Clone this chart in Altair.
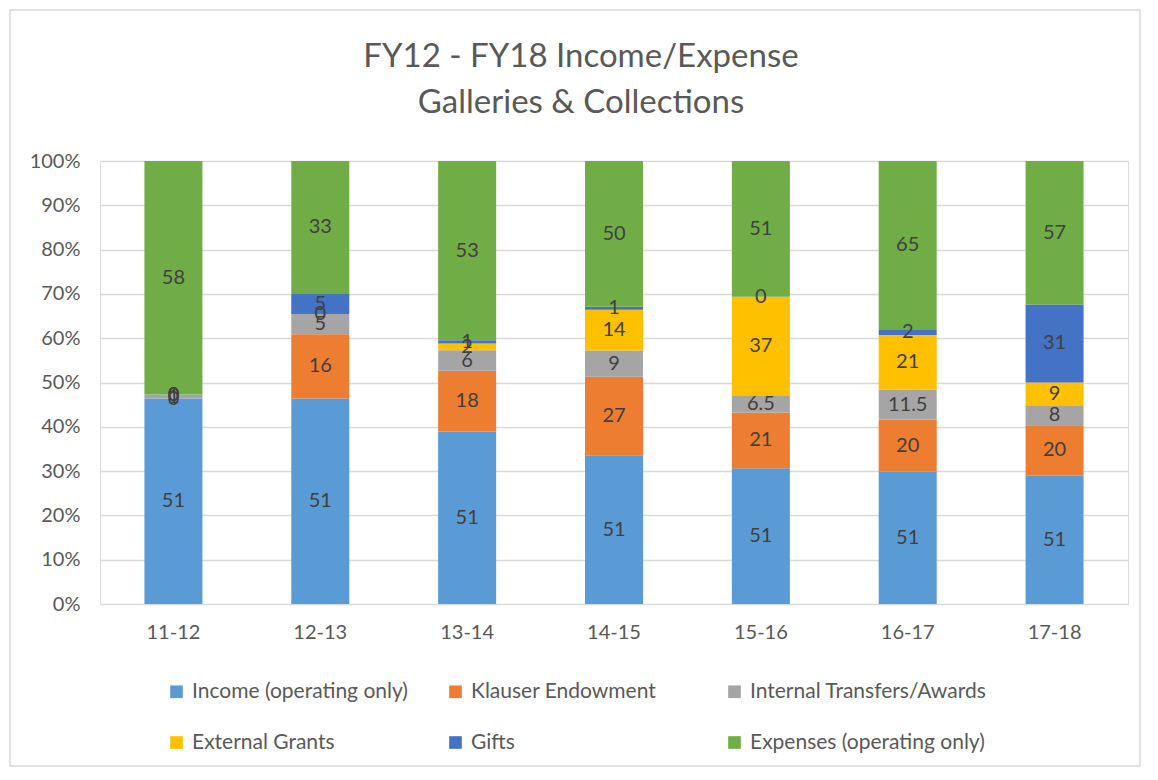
import altair as alt
import pandas as pd

years = ["11-12", "12-13", "13-14", "14-15", "15-16", "16-17", "17-18"]
series = ["Income (operating only)", "Klauser Endowment", "Internal Transfers/Awards",
          "External Grants", "Gifts", "Expenses (operating only)"]
colors = ["#5B9BD5", "#ED7D31", "#A5A5A5", "#FFC000", "#4472C4", "#70AD47"]

income    = [51, 51, 51, 51, 51, 51, 51]
klauser   = [0, 16, 18, 27, 21, 20, 20]
internal  = [1, 5, 6, 9, 6.5, 11.5, 8]
external  = [0, 0, 2, 14, 37, 21, 9]
gifts     = [0, 5, 1, 1, 0, 2, 31]
expenses  = [58, 33, 53, 50, 51, 65, 57]

title_lines = ["FY12 - FY18 Income/Expense", "Galleries & Collections"]

cols = [income, klauser, internal, external, gifts, expenses]
rows = []
for si, (name, vals) in enumerate(zip(series, cols)):
    for yi, yr in enumerate(years):
        v = vals[yi]
        lab = str(int(v)) if float(v).is_integer() else str(v)
        rows.append({"year": yr, "series": name, "idx": si, "value": v, "label": lab})
df = pd.DataFrame(rows)

FONT = "Lato"
GREY = "#595959"
W, H = 1028, 443

base = alt.Chart(df).transform_stack(
    stack="value", groupby=["year"], sort=[{"field": "idx", "order": "ascending"}],
    as_=["y0", "y1"], offset="normalize"
).transform_calculate(mid="(datum.y0 + datum.y1) / 2")

xenc = alt.X("year:N", sort=years, title=None,
             scale=alt.Scale(paddingInner=0.605, paddingOuter=0.3025),
             axis=alt.Axis(labelFont=FONT, labelFontSize=20, labelColor=GREY,
                           labelPadding=18, ticks=False, domain=False, labelAngle=0))

bars = base.mark_bar().encode(
    x=xenc,
    y=alt.Y("y0:Q", title=None, scale=alt.Scale(domain=[0, 1]),
            axis=alt.Axis(format=".0%", values=[i / 10 for i in range(11)],
                          labelFont=FONT, labelFontSize=20, labelColor=GREY,
                          labelPadding=20, ticks=False, domain=False,
                          grid=True, gridColor="#D9D9D9", gridWidth=1.3)),
    y2="y1:Q",
    color=alt.Color("series:N", scale=alt.Scale(domain=series, range=colors),
                    title=None,
                    legend=alt.Legend(orient="none", legendX=66, legendY=520,
                                      direction="horizontal",
                                      columns=3, gridAlign="all", symbolType="square",
                                      symbolSize=160, symbolStrokeWidth=0,
                                      labelFont=FONT, labelFontSize=21, labelColor=GREY,
                                      labelOffset=5, rowPadding=29, columnPadding=16,
                                      labelLimit=400)),
)

labels = base.mark_text(font=FONT, fontSize=20, color="#404040").encode(
    x=alt.X("year:N", sort=years),
    y=alt.Y("mid:Q"),
    text="label:N",
)

t1 = alt.Chart(alt.Data(values=[{"t": title_lines[0]}])).mark_text(
    font=FONT, fontSize=33, color=GREY, align="center", baseline="alphabetic"
).encode(x=alt.value(481), y=alt.value(-94), text="t:N")
t2 = alt.Chart(alt.Data(values=[{"t": title_lines[1]}])).mark_text(
    font=FONT, fontSize=33, color=GREY, align="center", baseline="alphabetic"
).encode(x=alt.value(481), y=alt.value(-48), text="t:N")

border = alt.Chart(alt.Data(values=[{"a": 1}])).mark_rect(
    filled=False, stroke="#D9D9D9", strokeWidth=1.5
).encode(x=alt.value(-90), x2=alt.value(W + 12), y=alt.value(-151), y2=alt.value(H + 162))

chart = alt.layer(border, bars, labels, t1, t2).properties(
    width=W, height=H,
    autosize=alt.AutoSizeParams(type="none"),
    padding={"left": 92, "top": 153, "right": 14, "bottom": 164},
).configure_view(stroke=None).configure(background="white")

chart.save("out.html", embed_options={"renderer": "svg", "actions": False})
